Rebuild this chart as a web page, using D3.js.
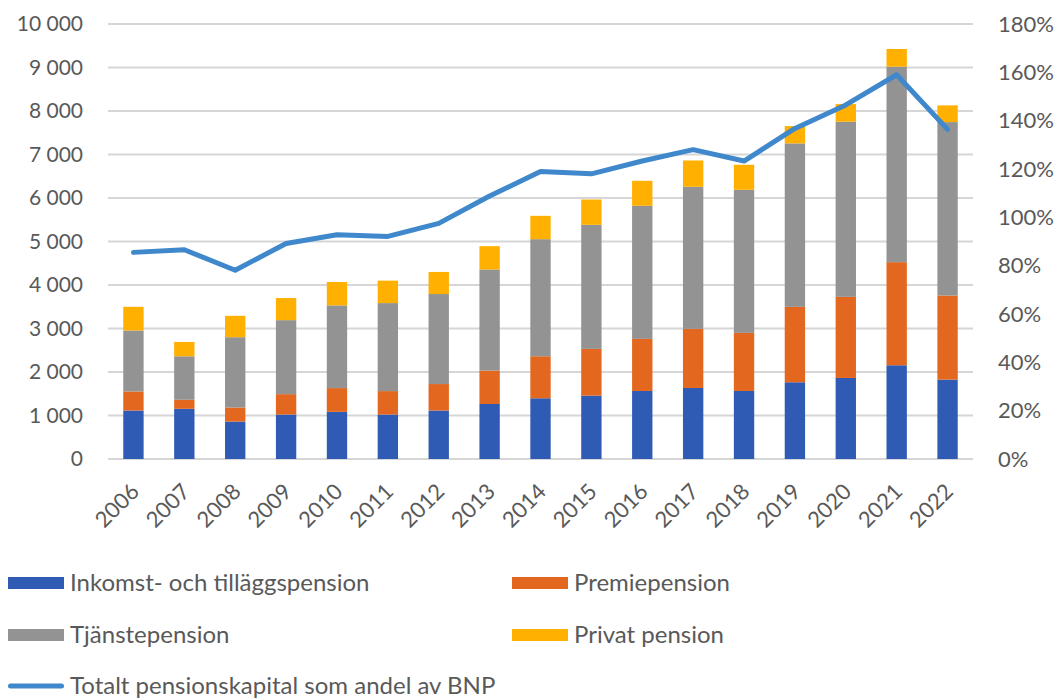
<!DOCTYPE html>
<html>
<meta charset="utf-8">
<head>
  <title>Pensionskapital</title>
</head>

<style>
body { margin: 0; background: white; }
text {
  font-family: Lato, "Open Sans", sans-serif;
  fill: #595959;
}
</style>

<body>
  <svg width="1062" height="698"></svg>

  <script src="https://cdnjs.cloudflare.com/ajax/libs/d3/7.8.5/d3.min.js"></script>
  <script>

var years = ["2006","2007","2008","2009","2010","2011","2012","2013","2014","2015","2016","2017","2018","2019","2020","2021","2022"];

// miljarder kr
var inkomst  = [1115, 1154,  861, 1022, 1084, 1022, 1115, 1265, 1396, 1457, 1564, 1633, 1564, 1764, 1863, 2155, 1825];
var premie   = [ 438,  208,  323,  469,  546,  539,  608,  767,  966, 1074, 1197, 1358, 1335, 1733, 1864, 2370, 1933];
var tjanste  = [1401,  999, 1616, 1701, 1901, 2023, 2069, 2324, 2692, 2852, 3060, 3267, 3290, 3758, 4026, 4493, 3987];
var privat   = [ 545,  330,  492,  508,  538,  516,  508,  537,  536,  583,  575,  605,  575,  398,  407,  407,  384];

// andel av BNP
var andelBnp = [0.855, 0.866, 0.781, 0.892, 0.928, 0.921, 0.975, 1.088, 1.190, 1.180, 1.233, 1.280, 1.233, 1.368, 1.465, 1.590, 1.364];

var leftTicks = [0, 1000, 2000, 3000, 4000, 5000, 6000, 7000, 8000, 9000, 10000];
var rightTicks = [0, 0.2, 0.4, 0.6, 0.8, 1.0, 1.2, 1.4, 1.6, 1.8];

var seriesNames = ["Inkomst- och tilläggspension", "Premiepension", "Tjänstepension", "Privat pension"];
var seriesColors = ["#2f5bb5", "#e3671f", "#939393", "#ffb000"];
var lineName = "Totalt pensionskapital som andel av BNP";
var lineColor = "#3f88cc";

var svg = d3.select("svg");

var x = d3.scaleBand()
  .domain(years)
  .range([108, 973])
  .paddingInner(0.6)
  .paddingOuter(0.3);

var y = d3.scaleLinear().domain([0, 10000]).range([459, 24]);
var y2 = d3.scaleLinear().domain([0, 1.8]).range([459, 24]);

// gridlines
svg.append("g")
  .selectAll("line")
  .data(leftTicks)
  .enter()
  .append("line")
  .attr("x1", 108)
  .attr("x2", 973)
  .attr("y1", function(d) { return y(d); })
  .attr("y2", function(d) { return y(d); })
  .attr("stroke", "#d6d6d6")
  .attr("stroke-width", 2);

// left axis
var leftAxis = svg.append("g")
  .attr("transform", "translate(90,0)")
  .call(d3.axisLeft(y).tickValues(leftTicks).tickSize(0).tickPadding(7).tickFormat(function(d) {
    return d3.format(",")(d).replace(/,/g, " ");
  }));
leftAxis.select(".domain").remove();
leftAxis.selectAll("text").attr("font-size", 21).attr("font-family", "Lato").attr("fill", "#595959");

// right axis
var rightAxis = svg.append("g")
  .attr("transform", "translate(990,0)")
  .call(d3.axisRight(y2).tickValues(rightTicks).tickSize(0).tickPadding(8).tickFormat(d3.format(".0%")));
rightAxis.select(".domain").remove();
rightAxis.selectAll("text").attr("font-size", 22).attr("font-family", "Lato").attr("fill", "#595959");

// stacked bars
var table = years.map(function(yr, i) {
  return { year: yr, s0: inkomst[i], s1: premie[i], s2: tjanste[i], s3: privat[i] };
});
var stack = d3.stack().keys(["s0", "s1", "s2", "s3"]);
var stacked = stack(table);

svg.append("g")
  .selectAll("g")
  .data(stacked)
  .enter()
  .append("g")
  .attr("fill", function(d, i) { return seriesColors[i]; })
  .selectAll("rect")
  .data(function(d) { return d; })
  .enter()
  .append("rect")
  .attr("x", function(d) { return x(d.data.year); })
  .attr("width", x.bandwidth())
  .attr("y", function(d) { return y(d[1]); })
  .attr("height", function(d) { return y(d[0]) - y(d[1]); });

// line
var line = d3.line()
  .x(function(d, i) { return x(years[i]) + x.bandwidth() / 2; })
  .y(function(d) { return y2(d); });

svg.append("path")
  .datum(andelBnp)
  .attr("d", line)
  .attr("fill", "none")
  .attr("stroke", lineColor)
  .attr("stroke-width", 5)
  .attr("stroke-linejoin", "round")
  .attr("stroke-linecap", "round");

// x labels
svg.append("g")
  .selectAll("text")
  .data(years)
  .enter()
  .append("text")
  .attr("transform", function(d) {
    return "translate(" + (x(d) + x.bandwidth() / 2 + 7) + ",493) rotate(-45)";
  })
  .attr("text-anchor", "end")
  .attr("font-size", 22)
  .text(function(d) { return d; });

// legend
var legendItems = [
  { name: seriesNames[0], color: seriesColors[0], x: 8, y: 583, type: "bar" },
  { name: seriesNames[1], color: seriesColors[1], x: 512, y: 583, type: "bar" },
  { name: seriesNames[2], color: seriesColors[2], x: 8, y: 635, type: "bar" },
  { name: seriesNames[3], color: seriesColors[3], x: 512, y: 635, type: "bar" },
  { name: lineName, color: lineColor, x: 8, y: 686, type: "line" }
];

var leg = svg.append("g")
  .selectAll("g")
  .data(legendItems)
  .enter()
  .append("g")
  .attr("transform", function(d) { return "translate(" + d.x + "," + d.y + ")"; });

leg.append("rect")
  .attr("x", 0)
  .attr("width", 56)
  .attr("y", function(d) { return d.type == "bar" ? -6 : -2.5; })
  .attr("height", function(d) { return d.type == "bar" ? 12 : 5; })
  .attr("rx", function(d) { return d.type == "bar" ? 0 : 2.5; })
  .attr("fill", function(d) { return d.color; });

leg.append("text")
  .attr("x", 62)
  .attr("dy", "0.35em")
  .attr("font-size", 24)
  .text(function(d) { return d.name; });

  </script>
</body>
</html>
